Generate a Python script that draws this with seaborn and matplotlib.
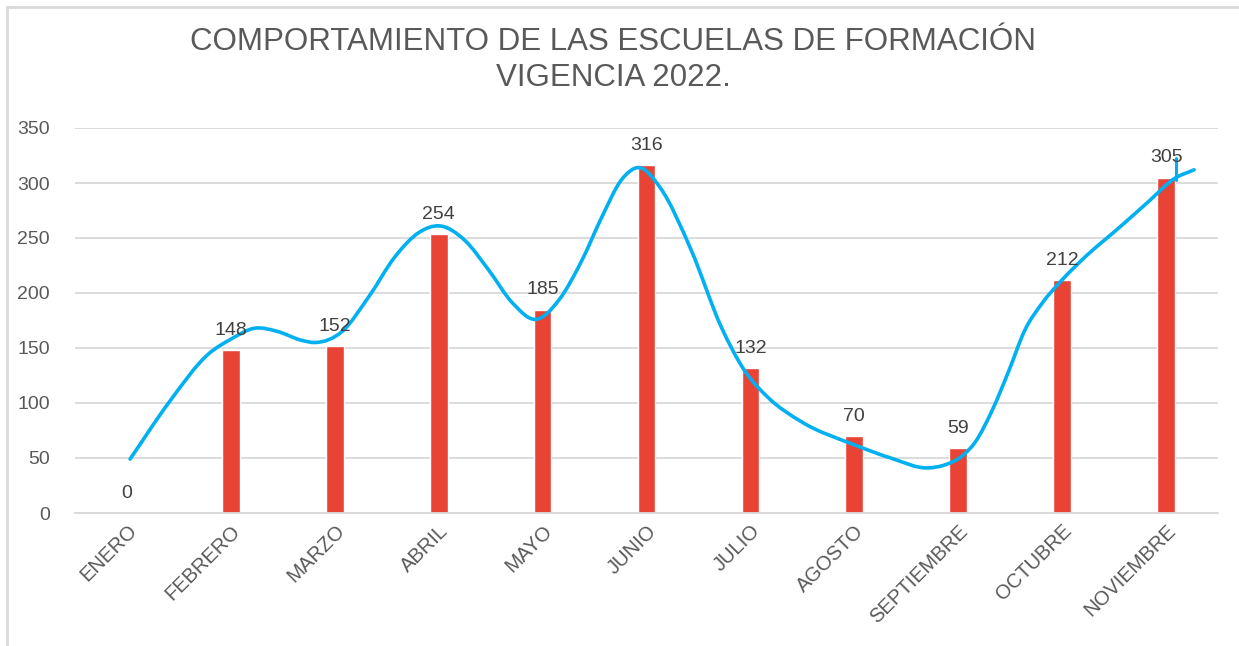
import matplotlib
matplotlib.use("Agg")
import matplotlib.pyplot as plt
from matplotlib.path import Path
from matplotlib.patches import PathPatch
from matplotlib.lines import Line2D
import numpy as np
import pandas as pd
import seaborn as sns

meses = ["ENERO", "FEBRERO", "MARZO", "ABRIL", "MAYO", "JUNIO",
         "JULIO", "AGOSTO", "SEPTIEMBRE", "OCTUBRE", "NOVIEMBRE"]
valores = [0, 148, 152, 254, 185, 316, 132, 70, 59, 212, 305]

# blue hand drawn curve (x = month index)
curva_x = [0.03, 0.4, 0.79, 1.0, 1.23, 1.45, 1.68, 1.81, 2.07, 2.33, 2.58,
           2.81, 3.01, 3.25, 3.48, 3.71, 3.93, 4.16, 4.38, 4.57, 4.76, 4.93,
           5.13, 5.43, 5.72, 5.94, 6.17, 6.49, 7.0, 7.35, 7.71, 7.88, 8.04,
           8.16, 8.33, 8.49, 8.64, 8.81, 9.0, 9.19, 9.58, 9.83, 10.08, 10.27]
curva_y = [49, 100, 145, 158, 168, 165, 157, 155, 165, 197, 233,
           255, 261, 248, 221, 191, 176, 194, 230, 269, 303, 314,
           296, 239, 169, 130, 105, 83, 62, 50, 41, 44, 52,
           64, 94, 130, 166, 191, 212, 230, 262, 283, 304, 312]

rojo = "#E84335"
azul = "#00B0F0"
gris = "#595959"

sns.set_style("white")
plt.rcParams["font.family"] = ["Liberation Sans", "DejaVu Sans"]

df = pd.DataFrame({"mes": meses, "valor": valores})

fig = plt.figure(figsize=(12.39, 6.46), dpi=100)
ax = fig.add_axes([75 / 1239, 1 - 513 / 646, (1218 - 75) / 1239, (513 - 128) / 646])

sns.barplot(data=df, x="mes", y="valor", color=rojo, width=0.17,
            saturation=1, ax=ax, zorder=2)

for i, v in enumerate(valores):
    ax.text(i, v + 10, str(v), ha="center", va="bottom", fontsize=14,
            color="#404040", zorder=4)

# smooth curve through the read points (cubic hermite drawn as bezier segments)
xs = np.array(curva_x, dtype=float)
ys = np.array(curva_y, dtype=float)
n = len(xs)
m = np.zeros(n)
m[0] = (ys[1] - ys[0]) / (xs[1] - xs[0])
m[-1] = (ys[-1] - ys[-2]) / (xs[-1] - xs[-2])
for k in range(1, n - 1):
    h0 = xs[k] - xs[k - 1]
    h1 = xs[k + 1] - xs[k]
    d0 = (ys[k] - ys[k - 1]) / h0
    d1 = (ys[k + 1] - ys[k]) / h1
    m[k] = (h1 * d0 + h0 * d1) / (h0 + h1)
verts = [(xs[0], ys[0])]
codes = [Path.MOVETO]
for k in range(n - 1):
    h = xs[k + 1] - xs[k]
    verts += [(xs[k] + h / 3, ys[k] + m[k] * h / 3),
              (xs[k + 1] - h / 3, ys[k + 1] - m[k + 1] * h / 3),
              (xs[k + 1], ys[k + 1])]
    codes += [Path.CURVE4] * 3
ax.add_patch(PathPatch(Path(verts, codes), fill=False, edgecolor=azul,
                       lw=2.6, zorder=3, capstyle="round"))
# little stroke near the end of the curve
ax.plot([10.1, 10.1], [303, 323], color=azul, lw=2.2, zorder=3)

ax.set_xlim(-0.5, 10.5)
ax.set_ylim(0, 350)
ax.set_yticks(range(0, 351, 50))
ax.yaxis.grid(True, color="#D9D9D9", lw=1.3)
ax.set_axisbelow(True)
ax.set_xlabel("")
ax.set_ylabel("")
for s in ["top", "right", "left"]:
    ax.spines[s].set_visible(False)
ax.spines["bottom"].set_color("#D9D9D9")
ax.spines["bottom"].set_linewidth(1.3)
ax.tick_params(axis="both", length=0, colors=gris)
ax.tick_params(axis="y", pad=18, labelsize=14)
ax.tick_params(axis="x", pad=6, labelsize=14.5)
plt.setp(ax.get_xticklabels(), rotation=45, ha="right", rotation_mode="anchor")

fig.text(0.495, 0.907, "COMPORTAMIENTO DE LAS ESCUELAS DE FORMACIÓN\nVIGENCIA 2022.",
         ha="center", va="center", fontsize=22.5, color=gris, linespacing=1.25)

# frame lines on the left and top of the picture
fig.add_artist(Line2D([7 / 1239, 7 / 1239], [0, 1 - 7 / 646], color="#D9D9D9", lw=2))
fig.add_artist(Line2D([7 / 1239, 1], [1 - 7 / 646, 1 - 7 / 646], color="#D9D9D9", lw=2))

fig.savefig("out.png", dpi=100)
